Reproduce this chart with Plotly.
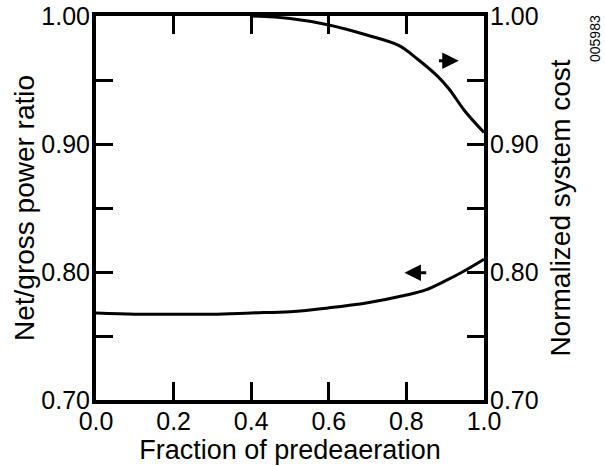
import plotly.graph_objects as go

# Data
ratio_x = [0.0, 0.1, 0.2, 0.3, 0.4, 0.5, 0.6, 0.7, 0.8, 0.85, 0.9, 0.95, 1.0]
ratio_y = [0.768, 0.767, 0.767, 0.767, 0.768, 0.769, 0.772, 0.776, 0.782, 0.786, 0.793, 0.801, 0.810]
cost_x = [0.4, 0.5, 0.6, 0.7, 0.78, 0.83, 0.88, 0.91, 0.95, 1.0]
cost_y = [1.0, 0.998, 0.993, 0.985, 0.977, 0.966, 0.953, 0.943, 0.926, 0.909]

x_ticks = [0.0, 0.2, 0.4, 0.6, 0.8, 1.0]
x_labels = ["0.0", "0.2", "0.4", "0.6", "0.8", "1.0"]
y_ticks = [0.70, 0.75, 0.80, 0.85, 0.90, 0.95, 1.00]
y_labels = ["0.70", "", "0.80", "", "0.90", "", "1.00"]

FONT = "Liberation Sans, Arial, sans-serif"
L, R, T, B = 96, 121, 16, 66
W, H = 605, 466

fig = go.Figure()
fig.add_trace(go.Scatter(x=ratio_x, y=ratio_y, mode="lines", line=dict(color="black", width=3, shape="spline"),
                         showlegend=False, yaxis="y"))
fig.add_trace(go.Scatter(x=cost_x, y=cost_y, mode="lines", line=dict(color="black", width=3, shape="spline"),
                         showlegend=False, yaxis="y2"))

axis_common = dict(showgrid=False, zeroline=False, showline=True, linecolor="black", linewidth=4,
                   ticks="inside", tickcolor="black", tickwidth=3, automargin=False,
                   tickfont=dict(family=FONT, size=25, color="black"))

fig.update_layout(
    width=W, height=H,
    margin=dict(l=L, r=R, t=T, b=B, autoexpand=False),
    plot_bgcolor="white", paper_bgcolor="white",
    xaxis=dict(range=[0, 1], tickvals=x_ticks, ticktext=x_labels, ticklen=18, mirror="ticks",
               ticklabelstandoff=-4,
               title=dict(text="Fraction of predeaeration", font=dict(family=FONT, size=27, color="black"), standoff=6),
               **axis_common),
    yaxis=dict(range=[0.70, 1.00], tickvals=y_ticks, ticktext=y_labels, ticklen=17, ticklabelstandoff=-3,
               title=dict(text="Net/gross power ratio", font=dict(family=FONT, size=28, color="black"), standoff=0),
               **axis_common),
    yaxis2=dict(range=[0.70, 1.00], tickvals=y_ticks, ticktext=y_labels, ticklen=17, overlaying="y", side="right",
                ticklabelstandoff=-3,
                title=dict(text="Normalized system cost", font=dict(family=FONT, size=28, color="black"), standoff=14),
                **axis_common),
)

fig.add_annotation(x=0.935, y=0.965, ax=0.88, ay=0.965, xref="x", yref="y", axref="x", ayref="y",
                   text="", showarrow=True, arrowhead=2, arrowsize=1.1, arrowwidth=3, arrowcolor="black")
fig.add_annotation(x=0.795, y=0.7995, ax=0.855, ay=0.7995, xref="x", yref="y", axref="x", ayref="y",
                   text="", showarrow=True, arrowhead=2, arrowsize=1.1, arrowwidth=3, arrowcolor="black")
fig.add_annotation(x=(595 - L) / (W - L - R), y=(H - B - 39) / (H - T - B), xref="paper", yref="paper",
                   xanchor="center", yanchor="middle",
                   text="005983", showarrow=False, textangle=-90,
                   font=dict(family=FONT, size=14, color="black"))

fig.write_html("out.html", config={"displayModeBar": False},
               post_script="document.body.style.margin='0px';document.body.style.overflow='hidden';")
